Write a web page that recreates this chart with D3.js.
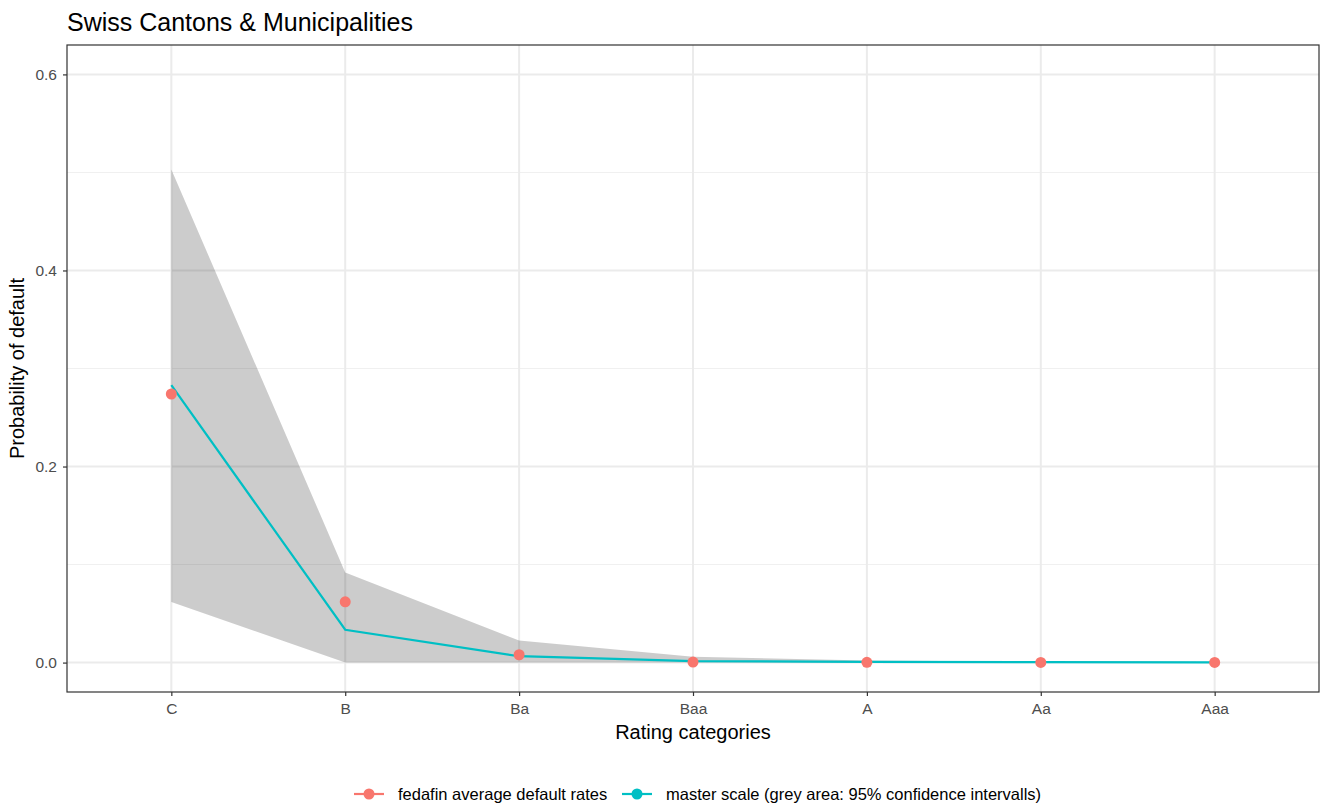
<!DOCTYPE html>
<html>
<head>
<meta charset="utf-8">
<script src="https://cdn.jsdelivr.net/npm/d3@7"></script>
<style>
  body { margin: 0; background: #fff; }
  svg { font-family: "Liberation Sans", Arial, sans-serif; }
</style>
</head>
<body>
<div id="chart"></div>
<script>
// Rating categories (worst to best)
const categories = ['C', 'B', 'Ba', 'Baa', 'A', 'Aa', 'Aaa'];
// fedafin average default rates (red points)
const fedafinRates = [0.274, 0.062, 0.008, 0.0005, 0.0003, 0.0002, 0.0002];
// master scale PD (teal line)
const masterScale = [0.283, 0.0335, 0.0065, 0.0015, 0.0008, 0.0004, 0.0002];
// 95% confidence interval (grey area)
const ciUpper = [0.503, 0.092, 0.0225, 0.006, 0.0022, 0.001, 0.0005];
const ciLower = [0.0617, 0.0, 0.0, 0.0, 0.0, 0.0, 0.0];
const yTicks = [0, 0.2, 0.4, 0.6];
const yMinor = [0.1, 0.3, 0.5];

const W = 1323, H = 805;
const panel = { left: 67, right: 1319, top: 45, bottom: 692 };

const svg = d3.select('#chart').append('svg').attr('width', W).attr('height', H);

// discrete x with ggplot-style 0.6 expansion
const x = d3.scaleLinear()
  .domain([-0.6, categories.length - 1 + 0.6])
  .range([panel.left, panel.right]);
const y = d3.scaleLinear()
  .domain([-0.03, 0.63])
  .range([panel.bottom, panel.top]);

const rows = categories.map((c, i) => ({
  cat: c, i, rate: fedafinRates[i], ms: masterScale[i], hi: ciUpper[i], lo: ciLower[i]
}));

// grid
const grid = svg.append('g');
grid.selectAll('line.minor').data(yMinor).join('line')
  .attr('x1', panel.left).attr('x2', panel.right)
  .attr('y1', d => y(d)).attr('y2', d => y(d))
  .attr('stroke', '#f0f0f0').attr('stroke-width', 1);
grid.selectAll('line.major').data(yTicks).join('line')
  .attr('x1', panel.left).attr('x2', panel.right)
  .attr('y1', d => y(d)).attr('y2', d => y(d))
  .attr('stroke', '#ebebeb').attr('stroke-width', 2);
grid.selectAll('line.vx').data(categories).join('line')
  .attr('x1', (d, i) => x(i)).attr('x2', (d, i) => x(i))
  .attr('y1', panel.top).attr('y2', panel.bottom)
  .attr('stroke', '#ebebeb').attr('stroke-width', 2);

// confidence band
const area = d3.area()
  .x(d => x(d.i)).y0(d => y(d.lo)).y1(d => y(d.hi));
svg.append('path').datum(rows)
  .attr('d', area)
  .attr('fill', '#000').attr('fill-opacity', 0.2);

// master scale line
const line = d3.line().x(d => x(d.i)).y(d => y(d.ms));
svg.append('path').datum(rows)
  .attr('d', line)
  .attr('fill', 'none').attr('stroke', '#00BFC4').attr('stroke-width', 2.2);

// fedafin points
svg.append('g').selectAll('circle').data(rows).join('circle')
  .attr('cx', d => x(d.i)).attr('cy', d => y(d.rate))
  .attr('r', 5.5).attr('fill', '#F8766D');

// panel border
svg.append('rect')
  .attr('x', panel.left).attr('y', panel.top)
  .attr('width', panel.right - panel.left).attr('height', panel.bottom - panel.top)
  .attr('fill', 'none').attr('stroke', '#333').attr('stroke-width', 1.2);

// axes
const xAxis = d3.axisBottom(x).tickValues(d3.range(categories.length))
  .tickFormat(i => categories[i]).tickSize(4).tickPadding(7);
const gx = svg.append('g').attr('transform', `translate(0,${panel.bottom})`).call(xAxis);
gx.select('.domain').remove();
gx.selectAll('line').attr('stroke', '#333').attr('stroke-width', 1.2);
gx.selectAll('text').attr('fill', '#4d4d4d').attr('font-size', 15.5);

const yAxis = d3.axisLeft(y).tickValues(yTicks).tickFormat(d3.format('.1f')).tickSize(4).tickPadding(6);
const gy = svg.append('g').attr('transform', `translate(${panel.left},0)`).call(yAxis);
gy.select('.domain').remove();
gy.selectAll('line').attr('stroke', '#333').attr('stroke-width', 1.2);
gy.selectAll('text').attr('fill', '#4d4d4d').attr('font-size', 15.5);

// titles
svg.append('text').attr('x', 67).attr('y', 31)
  .attr('font-size', 25).attr('fill', '#000').text('Swiss Cantons & Municipalities');
svg.append('text').attr('x', (panel.left + panel.right) / 2).attr('y', 739)
  .attr('text-anchor', 'middle').attr('font-size', 20).attr('fill', '#000').text('Rating categories');
svg.append('text')
  .attr('transform', `translate(24,${(panel.top + panel.bottom) / 2}) rotate(-90)`)
  .attr('text-anchor', 'middle').attr('font-size', 20).attr('fill', '#000').text('Probability of default');

// legend
const legendItems = [
  { label: 'fedafin average default rates', color: '#F8766D', x: 354 },
  { label: 'master scale (grey area: 95% confidence intervalls)', color: '#00BFC4', x: 622 }
];
const lg = svg.append('g').selectAll('g').data(legendItems).join('g')
  .attr('transform', d => `translate(${d.x},794)`);
lg.append('line').attr('x1', 0).attr('x2', 30).attr('y1', 0).attr('y2', 0)
  .attr('stroke', d => d.color).attr('stroke-width', 2.2);
lg.append('circle').attr('cx', 15).attr('cy', 0).attr('r', 5.5).attr('fill', d => d.color);
lg.append('text').attr('x', 44).attr('y', 6).attr('font-size', 16.5).attr('fill', '#000')
  .text(d => d.label);
</script>
</body>
</html>
